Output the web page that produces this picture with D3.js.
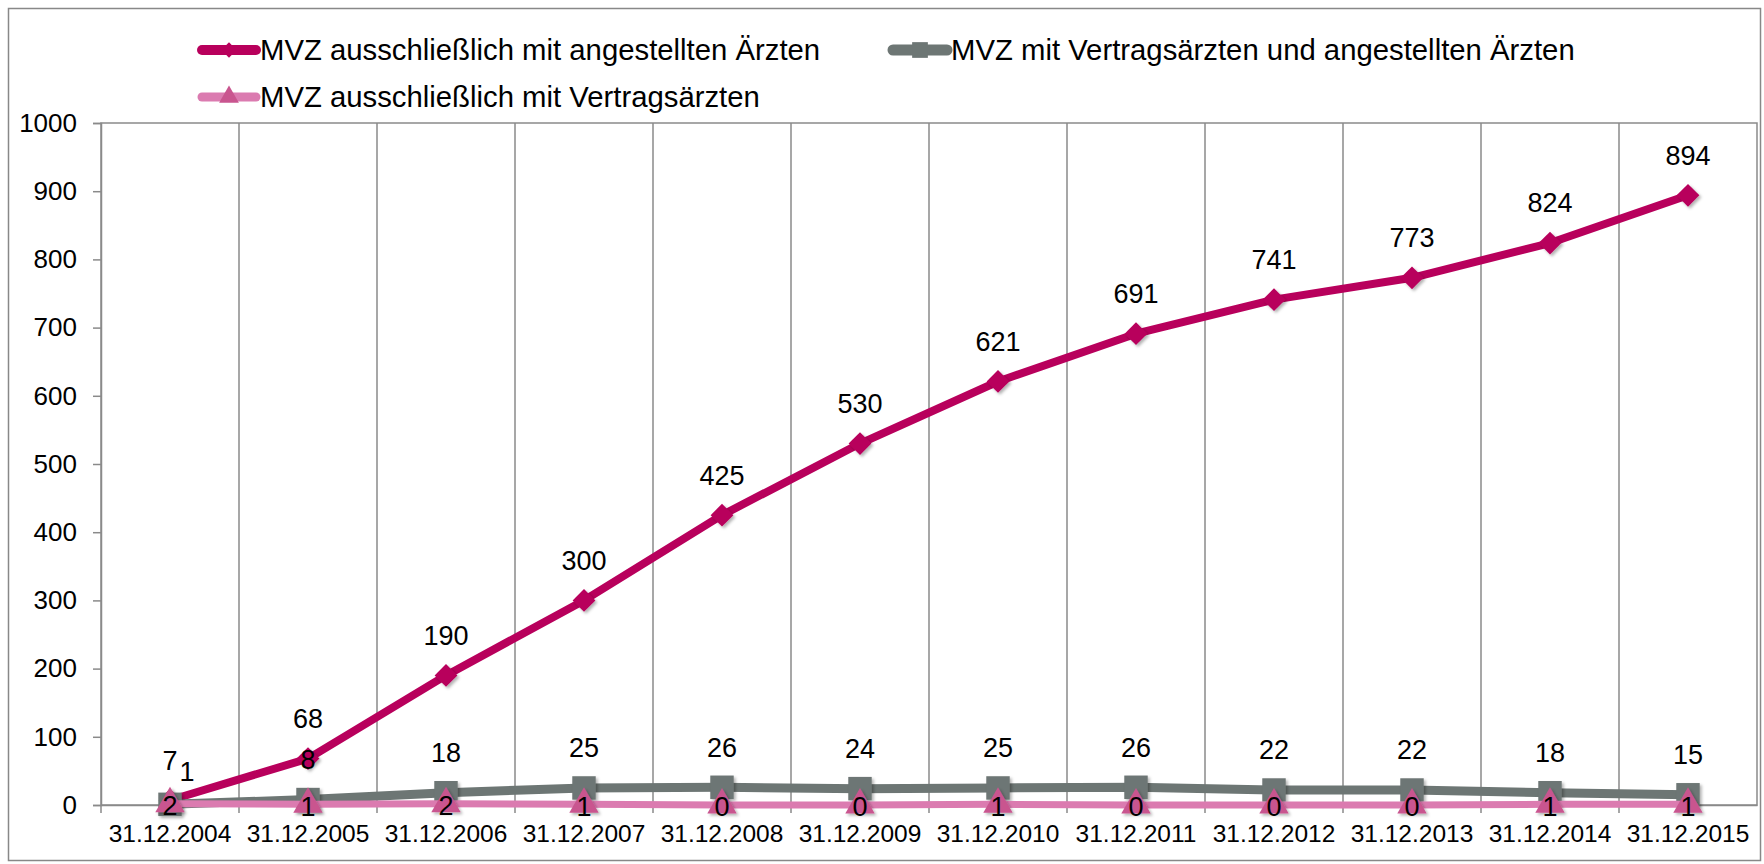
<!DOCTYPE html>
<html>
<head>
<meta charset="utf-8">
<script src="https://cdn.jsdelivr.net/npm/d3@7"></script>
<style>
  body { margin: 0; background: #fff; }
  svg text { font-family: "Liberation Sans", Arial, sans-serif; fill: #000; }
</style>
</head>
<body>
<div id="chart"></div>
<script>
const categories = ["31.12.2004", "31.12.2005", "31.12.2006", "31.12.2007", "31.12.2008", "31.12.2009",
    "31.12.2010", "31.12.2011", "31.12.2012", "31.12.2013", "31.12.2014", "31.12.2015"];
const angestellte = [7, 68, 190, 300, 425, 530, 621, 691, 741, 773, 824, 894];
const gemischt = [1, 8, 18, 25, 26, 24, 25, 26, 22, 22, 18, 15];
const vertragsaerzte = [2, 1, 2, 1, 0, 0, 1, 0, 0, 0, 1, 1];
const yTicks = [0, 100, 200, 300, 400, 500, 600, 700, 800, 900, 1000];

const series = [
    { name: "MVZ ausschließlich mit angestellten Ärzten", values: angestellte, color: "#b8005c", fill: "#b8005c", marker: d3.symbolDiamond2, size: 330, width: 8, label: "above" },
    { name: "MVZ mit Vertragsärzten und angestellten Ärzten", values: gemischt, color: "#6d7674", fill: "#6d7674", marker: d3.symbolSquare2, size: 700, width: 9, label: "above" },
    { name: "MVZ ausschließlich mit Vertragsärzten", values: vertragsaerzte, color: "#db7bb0", fill: "#c9558f", marker: d3.symbolTriangle2, size: 620, width: 7, label: "center" }
];

const W = 1764, H = 864;
const margin = { top: 123, right: 7, bottom: 59, left: 101 };
const width = W - margin.left - margin.right;
const height = H - margin.top - margin.bottom;

const svg = d3.select("#chart").append("svg")
    .attr("width", W)
    .attr("height", H);

// outer chart border
svg.append("rect")
    .attr("x", 8.5).attr("y", 8.5)
    .attr("width", W - 12).attr("height", H - 12)
    .attr("fill", "#fff").attr("stroke", "#888").attr("stroke-width", 1.5);

const g = svg.append("g")
    .attr("transform", `translate(${margin.left},${margin.top})`);

const x = d3.scaleBand().domain(categories).range([0, width]);
const y = d3.scaleLinear().domain([0, 1000]).range([height, 0]);
const cx = d => x(d) + x.bandwidth() / 2;

// vertical grid lines between categories
g.selectAll(".grid")
    .data(categories.slice(1))
    .enter().append("line")
    .attr("x1", d => x(d)).attr("x2", d => x(d))
    .attr("y1", 0).attr("y2", height + 8)
    .attr("stroke", "#8a8a8a").attr("stroke-width", 1.5);

g.append("rect")
    .attr("width", width).attr("height", height)
    .attr("fill", "none").attr("stroke", "#8a8a8a").attr("stroke-width", 1.5);

// y axis
const yAxis = g.append("g")
    .call(d3.axisLeft(y).tickValues(yTicks).tickFormat(d3.format("d")).tickSize(8).tickPadding(16));
yAxis.select(".domain").attr("stroke", "#8a8a8a").attr("stroke-width", 1.5);
yAxis.selectAll(".tick line").attr("stroke", "#8a8a8a").attr("stroke-width", 1.5);
yAxis.selectAll("text").attr("font-size", 26).attr("font-family", "Liberation Sans, Arial, sans-serif");

// x axis
const xAxis = g.append("g")
    .attr("transform", `translate(0,${height})`)
    .call(d3.axisBottom(x).tickSize(0).tickPadding(20));
xAxis.select(".domain").attr("stroke", "#8a8a8a").attr("stroke-width", 1.5);
xAxis.selectAll("text").attr("font-size", 24.5).attr("font-family", "Liberation Sans, Arial, sans-serif");
g.append("line")
    .attr("x1", 0).attr("x2", 0).attr("y1", height).attr("y2", height + 8)
    .attr("stroke", "#8a8a8a").attr("stroke-width", 1.5);

const defs = svg.append("defs");
const shadow = defs.append("filter").attr("id", "shadow").attr("x", "-50%").attr("y", "-50%").attr("width", "200%").attr("height", "200%");
shadow.append("feDropShadow").attr("dx", 2).attr("dy", 2).attr("stdDeviation", 1.5).attr("flood-opacity", 0.3);

const line = d3.line().x((d, i) => cx(categories[i])).y(d => y(d));

series.forEach(s => {
    const sg = g.append("g");
    sg.append("path")
        .datum(s.values)
        .attr("d", line)
        .attr("fill", "none")
        .attr("stroke", s.color)
        .attr("stroke-width", s.width)
        .attr("stroke-linejoin", "round")
        .attr("stroke-linecap", "round");
    sg.selectAll(".marker")
        .data(s.values)
        .enter().append("path")
        .attr("d", d3.symbol().type(s.marker).size(s.size))
        .attr("transform", (d, i) => `translate(${cx(categories[i])},${y(d)})`)
        .attr("fill", s.fill)
        .attr("filter", "url(#shadow)");
});

// data labels (the first grey label is nudged aside in the original)
series.forEach(s => {
    g.append("g").selectAll("text")
        .data(s.values)
        .enter().append("text")
        .attr("x", (d, i) => cx(categories[i]) + (s.values === gemischt && i === 0 ? 17 : 0))
        .attr("y", (d, i) => s.label === "above" ? y(d) - 40 + (s.values === gemischt && i === 0 ? 7 : 0) : y(d) + 2)
        .attr("dy", "0.35em")
        .attr("text-anchor", "middle")
        .attr("font-size", 27)
        .text(d => d);
});

// legend
const legendItems = [
    { s: series[0], x: 198, y: 50 },
    { s: series[1], x: 889, y: 50 },
    { s: series[2], x: 198, y: 97 }
];
const legend = svg.selectAll(".legend")
    .data(legendItems)
    .enter().append("g")
    .attr("class", "legend")
    .attr("transform", d => `translate(${d.x},${d.y})`);

legend.append("line")
    .attr("x1", 4).attr("x2", 58)
    .attr("stroke", d => d.s.color)
    .attr("stroke-width", d => d.s.width + 2)
    .attr("stroke-linecap", "round");

legend.append("path")
    .attr("transform", "translate(31,0)")
    .attr("d", d => d3.symbol().type(d.s.marker).size(d.s.size * 0.45)())
    .attr("fill", d => d.s.fill);

legend.append("text")
    .attr("x", 62)
    .attr("dy", "0.35em")
    .attr("font-size", 29.3)
    .text(d => d.s.name);
</script>
</body>
</html>
